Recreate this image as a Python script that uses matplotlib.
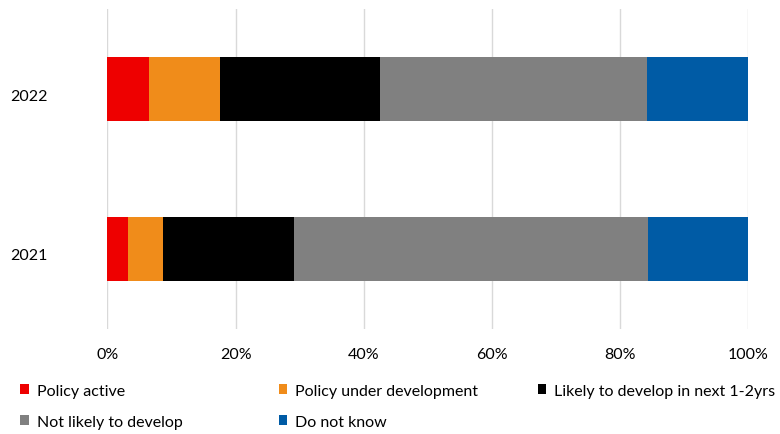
import matplotlib.pyplot as plt
import matplotlib.transforms as mtransforms
import numpy as np
from matplotlib.patches import Patch

plt.rcParams['font.family'] = ['Lato', 'DejaVu Sans']

years = ["2021", "2022"]
categories = ["Policy active", "Policy under development",
              "Likely to develop in next 1-2yrs", "Not likely to develop",
              "Do not know"]
values = {
    "Policy active": [3.2, 6.5],
    "Policy under development": [5.5, 11.1],
    "Likely to develop in next 1-2yrs": [20.5, 25.0],
    "Not likely to develop": [55.3, 41.7],
    "Do not know": [15.5, 15.7],
}
colors = ["#EE0000", "#F08C1A", "#000000", "#808080", "#005BA5"]

fig = plt.figure(figsize=(7.8, 4.35), dpi=100)
ax = fig.add_axes([0.1378, 0.2414, 0.8208, 0.7356])

y = np.arange(len(years))
left = np.zeros(len(years))
for cat, col in zip(categories, colors):
    v = np.array(values[cat])
    ax.barh(y, v, left=left, height=0.395, color=col, zorder=3)
    left += v

ax.set_xlim(0, 100)
ax.set_ylim(-0.5, 1.5)
ax.set_xticks(np.arange(0, 101, 20))
ax.set_xticklabels([f"{t}%" for t in range(0, 101, 20)])
ax.set_yticks(y)
ax.set_yticklabels(years)
ax.grid(axis="x", color="#d9d9d9", linewidth=1, zorder=0)
for s in ax.spines.values():
    s.set_visible(False)
ax.tick_params(axis="both", length=0, labelsize=11.5, colors="#000000")
ax.tick_params(axis="x", pad=13)
ax.tick_params(axis="y", pad=43)

# year labels sit a little below the bar centre
shift = mtransforms.ScaledTranslation(0, -5 / 100, fig.dpi_scale_trans)
for lbl in ax.get_yticklabels():
    lbl.set_transform(lbl.get_transform() + shift)

handles = [Patch(facecolor=c, edgecolor="none") for c in colors]
cols = [[0, 3], [1, 4], [2]]
xs = [0.018, 0.349, 0.681]
for idx, x0 in zip(cols, xs):
    fig.legend([handles[i] for i in idx], [categories[i] for i in idx],
               loc="upper left", bbox_to_anchor=(x0, 0.13), frameon=False,
               fontsize=11.5, handlelength=0.55, handleheight=0.55,
               handletextpad=0.5, labelspacing=1.05, borderaxespad=0)

fig.savefig("out.png", dpi=100)
